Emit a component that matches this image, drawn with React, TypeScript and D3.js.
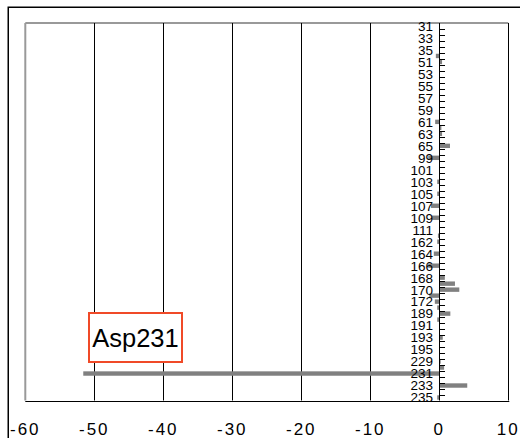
import React from "react";
import * as d3 from "d3";

const categories: string[] = [
  "31","32","33","34","35","49","51","52","53","54","55","56","57","58","59","60",
  "61","62","63","64","65","97","99","100","101","102","103","104","105","106","107","108",
  "109","110","111","160","162","163","164","165","166","167","168","169","170","171","172","187",
  "189","190","191","192","193","194","195","227","229","230","231","232","233","234","235"
];

const values: number[] = [
  0, 0, 0, 0, 0, -0.5, 0.4, 0, 0, 0, 0, 0, 0, 0, 0, 0,
  -0.6, 0.3, 0.4, 0, 1.55, 0, -1.6, 0, 0, 0, -0.3, 0, -0.3, 0, -1.2, 0,
  -1.05, 0, 0, -0.2, -0.3, 0, -0.8, 0, -1.6, 0, 0.8, 2.27, 2.9, -1.45, -0.65, -0.3,
  1.6, -0.3, 0, 0, 0.5, 0, 0, 0, 0.2, 0.7, -51.6, 0, 4.05, 0, -0.3
];

const xTicks: number[] = [-60, -50, -40, -30, -20, -10, 0, 10];
const annotation = "Asp231";

export default function App() {
  const left = 25.3, right = 508.3, top = 23, bottom = 400.5;
  const x = d3.scaleLinear().domain([-60, 10]).range([left, right]);
  const y = d3.scaleBand<string>().domain(categories).range([top, bottom]).padding(0);
  const bw = y.bandwidth();
  const barH = 4.4;
  const x0 = x(0);

  return (
    <svg width={520} height={438} style={{ position: "absolute", left: 0, top: 0, background: "#fff" }}
      fontFamily="Liberation Sans, Arial, sans-serif">
      <rect x={0} y={0} width={520} height={438} fill="#fff" />
      {/* outer chart border */}
      <rect x={8.25} y={7.25} width={600} height={600} fill="none" stroke="#000" strokeWidth={1.5} />
      {/* plot area border (gray) */}
      <line x1={left} x2={right} y1={top} y2={top} stroke="#999" strokeWidth={2} />
      <line x1={left} x2={left} y1={top} y2={bottom} stroke="#999" strokeWidth={2} />
      {/* gridlines */}
      {xTicks.filter(t => t !== -60 && t !== 0).map(t => (
        <line key={"g" + t} x1={Math.round(x(t)) + 0.5} x2={Math.round(x(t)) + 0.5} y1={top} y2={bottom}
          stroke="#000" strokeWidth={1} />
      ))}
      {/* bars */}
      {categories.map((c, i) => {
        const v = values[i];
        if (v === 0) return null;
        const cy = (y(c) as number) + bw / 2;
        const xa = Math.min(x(v), x0);
        const w = Math.abs(x(v) - x0);
        return <rect key={"b" + c} x={xa} y={cy - barH / 2} width={w} height={barH} fill="#808080" />;
      })}
      {/* category axis at 0 */}
      <line x1={Math.round(x0) + 0.5} x2={Math.round(x0) + 0.5} y1={top} y2={bottom} stroke="#000" strokeWidth={1} />
      {categories.map((c, i) => (
        <line key={"t" + i} x1={Math.round(x0)} x2={Math.round(x0) + 6}
          y1={Math.round((y(c) as number) + bw) + 0.5} y2={Math.round((y(c) as number) + bw) + 0.5}
          stroke="#000" strokeWidth={1} />
      ))}
      {categories.map((c, i) => i % 2 === 0 ? (
        <text key={"l" + c} x={433} y={(y(c) as number) + bw / 2} dy="0.36em" textAnchor="end"
          fontSize={13.5} fill="#000">{c}</text>
      ) : null)}
      {/* value axis */}
      <line x1={left} x2={right + 1} y1={Math.round(bottom) + 0.5} y2={Math.round(bottom) + 0.5} stroke="#000" strokeWidth={1} />
      {xTicks.map(t => (
        <text key={"x" + t} x={x(t)} y={435} textAnchor="middle" fontSize={17} letterSpacing={2} fill="#000">
          {t}
        </text>
      ))}
      {/* annotation */}
      <rect x={89} y={313} width={93} height={49} fill="#fff" stroke="#f04a28" strokeWidth={2} />
      <text x={135.5} y={346.5} textAnchor="middle" fontSize={25.5} fill="#000">{annotation}</text>
    </svg>
  );
}
